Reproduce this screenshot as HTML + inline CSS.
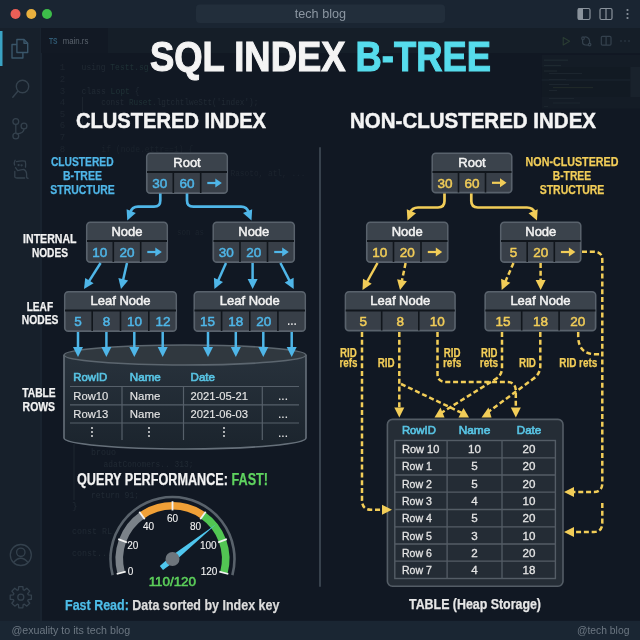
<!DOCTYPE html>
<html><head><meta charset="utf-8"><style>
html,body{margin:0;padding:0;width:640px;height:640px;overflow:hidden;background:#121820}
svg{display:block;position:absolute;left:0;top:0;will-change:transform}
text{font-family:"Liberation Sans",sans-serif}
.b{font-weight:bold}
</style></head><body>
<svg width="640" height="640" viewBox="0 0 640 640">
<defs><linearGradient id="cylg" x1="0" y1="0" x2="0" y2="1"><stop offset="0" stop-color="#28323c"/><stop offset="1" stop-color="#1b242d"/></linearGradient></defs>

<rect x="0" y="0" width="640" height="640" fill="#111823"/>
<rect x="0" y="0" width="640" height="28" fill="#1a2532"/>
<circle cx="15.5" cy="14" r="5" fill="#ec5f57"/>
<circle cx="31.3" cy="14" r="5" fill="#e9b03e"/>
<circle cx="47" cy="14" r="5" fill="#3dbd4a"/>
<rect x="196" y="4.5" width="249" height="18.5" rx="4" fill="#222e3b"/>
<text x="294.75" y="17.5" font-size="12.5" fill="#8c97a2" class="ns" textLength="51.25" lengthAdjust="spacingAndGlyphs">tech blog</text>
<rect x="578" y="8.5" width="12" height="11" rx="1.5" fill="none" stroke="#8a939c" stroke-width="1.2"/>
<rect x="578" y="8.5" width="5" height="11" fill="#8a939c"/>
<rect x="600" y="8.5" width="12" height="11" rx="1.5" fill="none" stroke="#8a939c" stroke-width="1.2"/>
<line x1="606" y1="8.5" x2="606" y2="19.5" stroke="#8a939c" stroke-width="1.2"/>
<circle cx="627.5" cy="10" r="1.1" fill="#8a939c"/><circle cx="627.5" cy="14" r="1.1" fill="#8a939c"/><circle cx="627.5" cy="18" r="1.1" fill="#8a939c"/>
<rect x="0" y="28" width="41" height="593" fill="#17202b"/><rect x="40" y="28" width="2" height="593" fill="#19232f"/>
<rect x="0" y="31" width="2.5" height="35" fill="#3aa3c4"/>
<rect x="41" y="28" width="599" height="25" fill="#151e28"/>
<rect x="41" y="28" width="67" height="25" fill="#121924"/>
<text x="49" y="44.2" font-size="8.5" font-weight="bold" class="ns" fill="#305a74" textLength="8.5" lengthAdjust="spacingAndGlyphs">TS</text>
<text x="62.7" y="44.2" font-size="9.5" fill="#5a636d" class="ns" textLength="25.7" lengthAdjust="spacingAndGlyphs">main.rs</text>
<rect x="0" y="620.8" width="640" height="20" fill="#1a2633"/>
<text x="11.4" y="634.3" font-size="11.5" fill="#6c7782" class="ns" textLength="118.8" lengthAdjust="spacingAndGlyphs">@exuality to its tech blog</text>
<text x="577" y="633.8" font-size="11.5" fill="#6c7782" class="ns" textLength="52.4" lengthAdjust="spacingAndGlyphs">@tech blog</text>
<line x1="320" y1="148" x2="320" y2="586" stroke="#37414c" stroke-width="2" stroke-linecap="round"/>

<g fill="none" stroke="#3a566a" stroke-width="1.4" stroke-linejoin="round"><path d="M16.9,44.5 H12 V58 H22.9 V52.5"/><path d="M16.9,39.5 H24 L27.7,43.2 V52.5 H16.9 Z"/><path d="M24,39.5 V43.2 H27.7"/></g>
<g fill="none" stroke="#34414d" stroke-width="1.4"><circle cx="22.5" cy="86.5" r="6.2"/><path d="M18,91 L12.4,97.8"/></g>
<g fill="none" stroke="#34414d" stroke-width="1.3"><circle cx="15.8" cy="121.6" r="2.9"/><circle cx="15.8" cy="136" r="2.9"/><circle cx="24" cy="126" r="2.9"/><path d="M15.8,124.5 V133.1"/><path d="M24,128.9 Q24,133 16.5,134"/></g>
<g fill="none" stroke="#34414d" stroke-width="1.3" stroke-linecap="round" stroke-linejoin="round"><path d="M15.1,160.2 Q13.8,162.5 14.6,165"/><path d="M16.5,161.6 Q21,160.5 25.2,161.1 Q26,164 25.5,167.2"/><circle cx="18.6" cy="165.1" r="0.5"/><circle cx="21.6" cy="165.3" r="0.5"/><path d="M15.5,167.7 L17.7,170.6 Q21,169.5 23.7,169.3 Q26.4,170.5 26.6,173.7 V177.6 L28,178.4"/><path d="M14.8,171.4 V177 Q15.2,178 17,178 H24.7"/></g>
<g fill="none" stroke="#34414d" stroke-width="1.3"><circle cx="20.8" cy="555" r="10.5"/><circle cx="20.8" cy="552.3" r="4.2"/><path d="M13.5,562.5 Q20.8,554 28.1,562.5"/></g>
<g fill="none" stroke="#34414d" stroke-width="1.3" stroke-linejoin="round"><path d="M31.40,595.14 L31.40,599.26 L28.22,599.59 L27.74,600.76 L29.75,603.24 L26.84,606.15 L24.36,604.14 L23.19,604.62 L22.86,607.80 L18.74,607.80 L18.41,604.62 L17.24,604.14 L14.76,606.15 L11.85,603.24 L13.86,600.76 L13.38,599.59 L10.20,599.26 L10.20,595.14 L13.38,594.81 L13.86,593.64 L11.85,591.16 L14.76,588.25 L17.24,590.26 L18.41,589.78 L18.74,586.60 L22.86,586.60 L23.19,589.78 L24.36,590.26 L26.84,588.25 L29.75,591.16 L27.74,593.64 L28.22,594.81 Z"/><circle cx="20.8" cy="597.2" r="3"/></g>
<path d="M563.2,37.6 L569.6,41.3 L563.2,45 Z" fill="none" stroke="#2a3c33" stroke-width="1.1" stroke-linejoin="round"/>
<g fill="none" stroke="#34414d" stroke-width="1.2" stroke-linecap="round"><path d="M582.6,39.5 V42.5 Q582.6,44.6 585.5,45 L588,45.2"/><path d="M584,37.2 Q586,36.6 587.5,37.5 Q589.6,39 589.6,41 V43.2"/><circle cx="583" cy="38.2" r="1.3"/><circle cx="589.6" cy="44.6" r="1.3"/></g>
<rect x="601.3" y="36.3" width="9.7" height="8.8" rx="1.2" fill="none" stroke="#34414d" stroke-width="1.2"/><line x1="606.1" y1="36.3" x2="606.1" y2="45.1" stroke="#34414d" stroke-width="1.2"/>
<circle cx="621" cy="41" r="0.8" fill="#34414d"/>
<circle cx="625" cy="41" r="0.8" fill="#34414d"/>
<circle cx="629" cy="41" r="0.8" fill="#34414d"/>
<rect x="541.7" y="54.9" width="98.3" height="53.6" fill="#141c26"/>
<rect x="541.7" y="67" width="88.6" height="30" fill="#121a23"/>
<rect x="630.3" y="67" width="9.7" height="30" fill="#19222c"/>
<rect x="541.7" y="79.6" width="88.6" height="0.8" fill="#1f2a33"/>
<rect x="544" y="59.6" width="24" height="1.1" fill="#1f2b32"/>
<rect x="544" y="65" width="17" height="1.1" fill="#1e2930"/>
<rect x="544" y="70.5" width="13" height="1.1" fill="#1e2930"/>
<rect x="549" y="73" width="33" height="1.1" fill="#1c252e"/>
<rect x="549" y="79" width="17" height="1.1" fill="#1c252e"/>
<rect x="549" y="84" width="20" height="1.1" fill="#1c252e"/>
<rect x="553" y="87" width="40" height="1.1" fill="#1f2828"/>
<rect x="549" y="90" width="8" height="1.1" fill="#1c252e"/>
<rect x="549" y="98" width="25" height="1.1" fill="#1c252e"/>
<rect x="553" y="102.5" width="27" height="1.1" fill="#1c252e"/>
<rect x="544" y="106" width="4" height="1.1" fill="#1c252e"/>
<text x="59.8" y="70.3" font-size="9" fill="#1e2630" style="font-family:Liberation Mono" class="ns">1</text>
<text x="59.8" y="81.89999999999999" font-size="9" fill="#1e2630" style="font-family:Liberation Mono" class="ns">2</text>
<text x="59.8" y="93.5" font-size="9" fill="#1e2630" style="font-family:Liberation Mono" class="ns">3</text>
<text x="59.8" y="105.1" font-size="9" fill="#1e2630" style="font-family:Liberation Mono" class="ns">4</text>
<text x="59.8" y="116.7" font-size="9" fill="#1e2630" style="font-family:Liberation Mono" class="ns">5</text>
<text x="59.8" y="128.3" font-size="9" fill="#1e2630" style="font-family:Liberation Mono" class="ns">6</text>
<text x="59.8" y="139.9" font-size="9" fill="#1e2630" style="font-family:Liberation Mono" class="ns">7</text>
<text x="59.8" y="151.5" font-size="9" fill="#1e2630" style="font-family:Liberation Mono" class="ns">8</text>
<text x="59.8" y="163.10000000000002" font-size="9" fill="#1e2630" style="font-family:Liberation Mono" class="ns">9</text>
<text x="0" y="0" class="ns"></text>
<text x="81.6" y="70.3" font-size="9.5" fill="#212a34" style="font-family:Liberation Mono" class="ns" textLength="67" lengthAdjust="spacingAndGlyphs">using <tspan class="ns" fill="#1f3236">Testt.sg</tspan></text>
<text x="81.6" y="93.5" font-size="9.5" fill="#212a34" style="font-family:Liberation Mono" class="ns" textLength="58" lengthAdjust="spacingAndGlyphs">class <tspan class="ns" fill="#1f3236">Lopt</tspan> {</text>
<text x="101.3" y="105" font-size="9.5" fill="#212a34" style="font-family:Liberation Mono" class="ns" textLength="157" lengthAdjust="spacingAndGlyphs">const <tspan class="ns" fill="#1f3236">Ruset</tspan>.lgtchtlweStt(&#39;index&#39;);</text>
<text x="101.3" y="151.6" font-size="9.5" fill="#1b232d" style="font-family:Liberation Mono" class="ns" textLength="92" lengthAdjust="spacingAndGlyphs">if (node.ettr==1) {</text>
<text x="230.5" y="175.6" font-size="9.5" fill="#1c242e" style="font-family:Liberation Mono" class="ns" textLength="75" lengthAdjust="spacingAndGlyphs">Rasoto, atl, ...</text>
<text x="177" y="235.4" font-size="9.5" fill="#1c242e" style="font-family:Liberation Mono" class="ns" textLength="27" lengthAdjust="spacingAndGlyphs">son as</text>
<text x="91" y="455" font-size="9.5" fill="#212a34" style="font-family:Liberation Mono" class="ns" textLength="25" lengthAdjust="spacingAndGlyphs">brouo</text>
<text x="103.5" y="466.5" font-size="9.5" fill="#212a34" style="font-family:Liberation Mono" class="ns" textLength="90" lengthAdjust="spacingAndGlyphs">adatConomers.. 313;</text>
<text x="91" y="497.8" font-size="9.5" fill="#212a34" style="font-family:Liberation Mono" class="ns" textLength="48" lengthAdjust="spacingAndGlyphs">return 91;</text>
<text x="72" y="509" font-size="9.5" fill="#212a34" style="font-family:Liberation Mono" class="ns">}</text>
<text x="72" y="533.6" font-size="9.5" fill="#212a34" style="font-family:Liberation Mono" class="ns" textLength="40" lengthAdjust="spacingAndGlyphs">const RL</text>
<text x="72" y="555.5" font-size="9.5" fill="#212a34" style="font-family:Liberation Mono" class="ns" textLength="40" lengthAdjust="spacingAndGlyphs">const...</text>
<line x1="74" y1="444" x2="74" y2="500" stroke="#1e2630" stroke-width="1"/>
<line x1="82.5" y1="97" x2="82.5" y2="126" stroke="#1c242e" stroke-width="1"/>
<text x="150" y="71" font-size="42" class="b" fill="#f4f4f4" textLength="341" lengthAdjust="spacingAndGlyphs" stroke="#f4f4f4" stroke-width="1.1">SQL INDEX <tspan fill="#56dcec" stroke="#56dcec">B-TREE</tspan></text>
<text x="76" y="128" font-size="22" class="b" fill="#f4f4f4" textLength="190" lengthAdjust="spacingAndGlyphs" stroke="#f4f4f4" stroke-width="0.5">CLUSTERED INDEX</text>
<text x="350" y="128" font-size="22" class="b" fill="#f4f4f4" textLength="246" lengthAdjust="spacingAndGlyphs" stroke="#f4f4f4" stroke-width="0.5">NON-CLUSTERED INDEX</text>
<text x="50.9" y="166.1" font-size="11.9" class="b" fill="#4fb6e8" textLength="62.7" lengthAdjust="spacingAndGlyphs" stroke="#4fb6e8" stroke-width="0.25">CLUSTERED</text>
<text x="62.9" y="180.1" font-size="11.9" class="b" fill="#4fb6e8" textLength="39.0" lengthAdjust="spacingAndGlyphs" stroke="#4fb6e8" stroke-width="0.25">B-TREE</text>
<text x="50.3" y="194" font-size="11.9" class="b" fill="#4fb6e8" textLength="64.4" lengthAdjust="spacingAndGlyphs" stroke="#4fb6e8" stroke-width="0.25">STRUCTURE</text>
<text x="23.1" y="243.1" font-size="11.9" class="b" fill="#f2f2f2" textLength="53.4" lengthAdjust="spacingAndGlyphs" stroke="#f2f2f2" stroke-width="0.25">INTERNAL</text>
<text x="31.9" y="256.9" font-size="11.9" class="b" fill="#f2f2f2" textLength="36.1" lengthAdjust="spacingAndGlyphs" stroke="#f2f2f2" stroke-width="0.25">NODES</text>
<text x="26.7" y="310.7" font-size="11.9" class="b" fill="#f2f2f2" textLength="26.4" lengthAdjust="spacingAndGlyphs" stroke="#f2f2f2" stroke-width="0.25">LEAF</text>
<text x="21.8" y="324" font-size="11.9" class="b" fill="#f2f2f2" textLength="36.6" lengthAdjust="spacingAndGlyphs" stroke="#f2f2f2" stroke-width="0.25">NODES</text>
<text x="22.2" y="397.3" font-size="11.9" class="b" fill="#f2f2f2" textLength="33.5" lengthAdjust="spacingAndGlyphs" stroke="#f2f2f2" stroke-width="0.25">TABLE</text>
<text x="22.6" y="411.3" font-size="11.9" class="b" fill="#f2f2f2" textLength="32.5" lengthAdjust="spacingAndGlyphs" stroke="#f2f2f2" stroke-width="0.25">ROWS</text>
<rect x="146.8" y="153.3" width="80.4" height="39.9" rx="3.5" fill="#383f48" stroke="#59626c" stroke-width="1.7"/>
<rect x="147.7" y="154.2" width="78.6" height="17.8" rx="2.5" fill="#3b434c"/>
<line x1="147" y1="172.0" x2="227" y2="172.0" stroke="#11161c" stroke-width="1.8"/>
<line x1="173.3" y1="172.0" x2="173.3" y2="193.0" stroke="#11161c" stroke-width="1.6"/>
<line x1="200.7" y1="172.0" x2="200.7" y2="193.0" stroke="#11161c" stroke-width="1.6"/>
<text x="187.0" y="166.9" font-size="13" fill="#f2f2f2" text-anchor="middle" stroke="#f2f2f2" stroke-width="0.5">Root</text>
<text x="159.7" y="187.9" font-size="13.5" fill="#4fb6e8" text-anchor="middle" stroke="#4fb6e8" stroke-width="0.5">30</text>
<text x="187.0" y="187.9" font-size="13.5" fill="#4fb6e8" text-anchor="middle" stroke="#4fb6e8" stroke-width="0.5">60</text>
<path d="M207.3,183.0 H217.3" stroke="#4fb6e8" stroke-width="2.2"/>
<path d="M215.3,178.5 L221.8,183.0 L215.3,187.5 Z" fill="#4fb6e8"/>
<rect x="86.8" y="222.3" width="80.4" height="39.9" rx="3.5" fill="#383f48" stroke="#59626c" stroke-width="1.7"/>
<rect x="87.7" y="223.2" width="78.6" height="17.8" rx="2.5" fill="#3b434c"/>
<line x1="87" y1="241.0" x2="167" y2="241.0" stroke="#11161c" stroke-width="1.8"/>
<line x1="113.3" y1="241.0" x2="113.3" y2="262.0" stroke="#11161c" stroke-width="1.6"/>
<line x1="140.7" y1="241.0" x2="140.7" y2="262.0" stroke="#11161c" stroke-width="1.6"/>
<text x="127.0" y="235.9" font-size="13" fill="#f2f2f2" text-anchor="middle" stroke="#f2f2f2" stroke-width="0.5">Node</text>
<text x="99.7" y="256.9" font-size="13.5" fill="#4fb6e8" text-anchor="middle" stroke="#4fb6e8" stroke-width="0.5">10</text>
<text x="127.0" y="256.9" font-size="13.5" fill="#4fb6e8" text-anchor="middle" stroke="#4fb6e8" stroke-width="0.5">20</text>
<path d="M147.3,252.0 H157.3" stroke="#4fb6e8" stroke-width="2.2"/>
<path d="M155.3,247.5 L161.8,252.0 L155.3,256.5 Z" fill="#4fb6e8"/>
<rect x="213.3" y="222.3" width="80.9" height="39.9" rx="3.5" fill="#383f48" stroke="#59626c" stroke-width="1.7"/>
<rect x="214.2" y="223.2" width="79.1" height="17.8" rx="2.5" fill="#3b434c"/>
<line x1="213.5" y1="241.0" x2="294.0" y2="241.0" stroke="#11161c" stroke-width="1.8"/>
<line x1="240.0" y1="241.0" x2="240.0" y2="262.0" stroke="#11161c" stroke-width="1.6"/>
<line x1="267.5" y1="241.0" x2="267.5" y2="262.0" stroke="#11161c" stroke-width="1.6"/>
<text x="253.8" y="235.9" font-size="13" fill="#f2f2f2" text-anchor="middle" stroke="#f2f2f2" stroke-width="0.5">Node</text>
<text x="226.2" y="256.9" font-size="13.5" fill="#4fb6e8" text-anchor="middle" stroke="#4fb6e8" stroke-width="0.5">30</text>
<text x="253.8" y="256.9" font-size="13.5" fill="#4fb6e8" text-anchor="middle" stroke="#4fb6e8" stroke-width="0.5">20</text>
<path d="M274.2,252.0 H284.2" stroke="#4fb6e8" stroke-width="2.2"/>
<path d="M282.2,247.5 L288.8,252.0 L282.2,256.5 Z" fill="#4fb6e8"/>
<rect x="64.8" y="291.8" width="111.4" height="39.4" rx="3.5" fill="#383f48" stroke="#59626c" stroke-width="1.7"/>
<rect x="65.7" y="292.7" width="109.6" height="17.8" rx="2.5" fill="#3b434c"/>
<line x1="65" y1="310.5" x2="176" y2="310.5" stroke="#11161c" stroke-width="1.8"/>
<line x1="92.2" y1="310.5" x2="92.2" y2="331" stroke="#11161c" stroke-width="1.6"/>
<line x1="120.5" y1="310.5" x2="120.5" y2="331" stroke="#11161c" stroke-width="1.6"/>
<line x1="148.8" y1="310.5" x2="148.8" y2="331" stroke="#11161c" stroke-width="1.6"/>
<text x="120.5" y="305.4" font-size="13" fill="#f2f2f2" text-anchor="middle" stroke="#f2f2f2" stroke-width="0.5">Leaf Node</text>
<text x="78.1" y="326.1" font-size="13.5" fill="#4fb6e8" text-anchor="middle" stroke="#4fb6e8" stroke-width="0.5">5</text>
<text x="106.4" y="326.1" font-size="13.5" fill="#4fb6e8" text-anchor="middle" stroke="#4fb6e8" stroke-width="0.5">8</text>
<text x="134.6" y="326.1" font-size="13.5" fill="#4fb6e8" text-anchor="middle" stroke="#4fb6e8" stroke-width="0.5">10</text>
<text x="162.9" y="326.1" font-size="13.5" fill="#4fb6e8" text-anchor="middle" stroke="#4fb6e8" stroke-width="0.5">12</text>
<rect x="194.3" y="291.8" width="110.9" height="39.4" rx="3.5" fill="#383f48" stroke="#59626c" stroke-width="1.7"/>
<rect x="195.2" y="292.7" width="109.1" height="17.8" rx="2.5" fill="#3b434c"/>
<line x1="194.5" y1="310.5" x2="305.0" y2="310.5" stroke="#11161c" stroke-width="1.8"/>
<line x1="221.6" y1="310.5" x2="221.6" y2="331" stroke="#11161c" stroke-width="1.6"/>
<line x1="249.8" y1="310.5" x2="249.8" y2="331" stroke="#11161c" stroke-width="1.6"/>
<line x1="277.9" y1="310.5" x2="277.9" y2="331" stroke="#11161c" stroke-width="1.6"/>
<text x="249.8" y="305.4" font-size="13" fill="#f2f2f2" text-anchor="middle" stroke="#f2f2f2" stroke-width="0.5">Leaf Node</text>
<text x="207.6" y="326.1" font-size="13.5" fill="#4fb6e8" text-anchor="middle" stroke="#4fb6e8" stroke-width="0.5">15</text>
<text x="235.7" y="326.1" font-size="13.5" fill="#4fb6e8" text-anchor="middle" stroke="#4fb6e8" stroke-width="0.5">18</text>
<text x="263.8" y="326.1" font-size="13.5" fill="#4fb6e8" text-anchor="middle" stroke="#4fb6e8" stroke-width="0.5">20</text>
<text x="291.9" y="325.4" font-size="12" fill="#f2f2f2" text-anchor="middle" stroke="#f2f2f2" stroke-width="0.1">...</text>
<path d="M160.3,193.5 V200.5 Q160.3,206.7 154,206.7 H138 Q132,206.7 130,213" fill="none" stroke="#4fb6e8" stroke-width="2.7" stroke-linejoin="round"/>
<path d="M127.3,220.4 L126.6,209.2 L135.8,213.1 Z" fill="#4fb6e8"/>
<path d="M187,193.5 V200.5 Q187,206.7 193.3,206.7 H241 Q247,206.7 249,213" fill="none" stroke="#4fb6e8" stroke-width="2.7" stroke-linejoin="round"/>
<path d="M251.5,220.4 L243.0,213.1 L252.2,209.2 Z" fill="#4fb6e8"/>
<line x1="100.6" y1="263" x2="88.3" y2="282.3" stroke="#4fb6e8" stroke-width="2.5"/>
<path d="M84.0,289.0 L85.2,277.9 L93.6,283.3 Z" fill="#4fb6e8"/>
<line x1="127" y1="263" x2="122.8" y2="281.2" stroke="#4fb6e8" stroke-width="2.5"/>
<path d="M121.0,289.0 L118.4,278.1 L128.1,280.4 Z" fill="#4fb6e8"/>
<line x1="226" y1="263" x2="217.7" y2="281.7" stroke="#4fb6e8" stroke-width="2.5"/>
<path d="M214.4,289.0 L213.9,277.8 L223.0,281.9 Z" fill="#4fb6e8"/>
<line x1="252.6" y1="263" x2="252.6" y2="281.0" stroke="#4fb6e8" stroke-width="2.5"/>
<path d="M252.6,289.0 L247.6,279.0 L257.6,279.0 Z" fill="#4fb6e8"/>
<line x1="280.4" y1="263" x2="290.1" y2="281.9" stroke="#4fb6e8" stroke-width="2.5"/>
<path d="M293.7,289.0 L284.7,282.4 L293.6,277.8 Z" fill="#4fb6e8"/>
<path d="M64,355 L64,438 A121,11 0 0 0 306,438 L306,355" fill="url(#cylg)" stroke="#66707a" stroke-width="1.6"/>
<ellipse cx="185" cy="355" rx="121" ry="10" fill="#30383f" stroke="#5c666f" stroke-width="1.6"/>
<line x1="70" y1="386.5" x2="299" y2="386.5" stroke="#56606a" stroke-width="1.2"/>
<line x1="70" y1="404.8" x2="299" y2="404.8" stroke="#56606a" stroke-width="1.2"/>
<line x1="70" y1="423" x2="299" y2="423" stroke="#56606a" stroke-width="1.2"/>
<line x1="122" y1="386.5" x2="122" y2="440" stroke="#56606a" stroke-width="1.2"/>
<line x1="183.5" y1="386.5" x2="183.5" y2="440" stroke="#56606a" stroke-width="1.2"/>
<line x1="262.3" y1="386.5" x2="262.3" y2="440" stroke="#56606a" stroke-width="1.2"/>
<line x1="78" y1="332" x2="78.0" y2="349.0" stroke="#4fb6e8" stroke-width="2.5"/>
<path d="M78.0,357.0 L73.0,347.0 L83.0,347.0 Z" fill="#4fb6e8"/>
<line x1="106.4" y1="332" x2="106.4" y2="349.0" stroke="#4fb6e8" stroke-width="2.5"/>
<path d="M106.4,357.0 L101.4,347.0 L111.4,347.0 Z" fill="#4fb6e8"/>
<line x1="134.3" y1="332" x2="134.3" y2="349.0" stroke="#4fb6e8" stroke-width="2.5"/>
<path d="M134.3,357.0 L129.3,347.0 L139.3,347.0 Z" fill="#4fb6e8"/>
<line x1="162.7" y1="332" x2="162.7" y2="349.0" stroke="#4fb6e8" stroke-width="2.5"/>
<path d="M162.7,357.0 L157.7,347.0 L167.7,347.0 Z" fill="#4fb6e8"/>
<line x1="208" y1="332" x2="208.0" y2="349.0" stroke="#4fb6e8" stroke-width="2.5"/>
<path d="M208.0,357.0 L203.0,347.0 L213.0,347.0 Z" fill="#4fb6e8"/>
<line x1="235.8" y1="332" x2="235.8" y2="349.0" stroke="#4fb6e8" stroke-width="2.5"/>
<path d="M235.8,357.0 L230.8,347.0 L240.8,347.0 Z" fill="#4fb6e8"/>
<line x1="263.3" y1="332" x2="263.3" y2="349.0" stroke="#4fb6e8" stroke-width="2.5"/>
<path d="M263.3,357.0 L258.3,347.0 L268.3,347.0 Z" fill="#4fb6e8"/>
<line x1="291.7" y1="332" x2="291.7" y2="349.0" stroke="#4fb6e8" stroke-width="2.5"/>
<path d="M291.7,357.0 L286.7,347.0 L296.7,347.0 Z" fill="#4fb6e8"/>
<text x="73.3" y="380.8" font-size="11.8" fill="#58c4e4" text-anchor="start" stroke="#58c4e4" stroke-width="0.65" textLength="34" lengthAdjust="spacingAndGlyphs">RowID</text>
<text x="129.8" y="380.8" font-size="11.8" fill="#58c4e4" text-anchor="start" stroke="#58c4e4" stroke-width="0.65" textLength="31" lengthAdjust="spacingAndGlyphs">Name</text>
<text x="190.6" y="380.8" font-size="11.8" fill="#58c4e4" text-anchor="start" stroke="#58c4e4" stroke-width="0.65" textLength="24.4" lengthAdjust="spacingAndGlyphs">Date</text>
<text x="73.3" y="399.5" font-size="11.8" fill="#e4e4e4" text-anchor="start" stroke="#e4e4e4" stroke-width="0.15" textLength="35" lengthAdjust="spacingAndGlyphs">Row10</text>
<text x="129.8" y="399.5" font-size="11.8" fill="#e4e4e4" text-anchor="start" stroke="#e4e4e4" stroke-width="0.15" textLength="30.5" lengthAdjust="spacingAndGlyphs">Name</text>
<text x="190.6" y="399.5" font-size="11.8" fill="#e4e4e4" text-anchor="start" stroke="#e4e4e4" stroke-width="0.15" textLength="57.5" lengthAdjust="spacingAndGlyphs">2021-05-21</text>
<text x="283" y="399.5" font-size="11.8" fill="#e4e4e4" text-anchor="middle" stroke="#e4e4e4" stroke-width="0.15">...</text>
<text x="73.3" y="417.8" font-size="11.8" fill="#e4e4e4" text-anchor="start" stroke="#e4e4e4" stroke-width="0.15" textLength="35" lengthAdjust="spacingAndGlyphs">Row13</text>
<text x="129.8" y="417.8" font-size="11.8" fill="#e4e4e4" text-anchor="start" stroke="#e4e4e4" stroke-width="0.15" textLength="30.5" lengthAdjust="spacingAndGlyphs">Name</text>
<text x="190.6" y="417.8" font-size="11.8" fill="#e4e4e4" text-anchor="start" stroke="#e4e4e4" stroke-width="0.15" textLength="57.5" lengthAdjust="spacingAndGlyphs">2021-06-03</text>
<text x="283" y="417.8" font-size="11.8" fill="#e4e4e4" text-anchor="middle" stroke="#e4e4e4" stroke-width="0.15">...</text>
<circle cx="92" cy="428" r="0.9" fill="#f2f2f2"/>
<circle cx="92" cy="432" r="0.9" fill="#f2f2f2"/>
<circle cx="92" cy="436" r="0.9" fill="#f2f2f2"/>
<circle cx="149" cy="428" r="0.9" fill="#f2f2f2"/>
<circle cx="149" cy="432" r="0.9" fill="#f2f2f2"/>
<circle cx="149" cy="436" r="0.9" fill="#f2f2f2"/>
<circle cx="224" cy="428" r="0.9" fill="#f2f2f2"/>
<circle cx="224" cy="432" r="0.9" fill="#f2f2f2"/>
<circle cx="224" cy="436" r="0.9" fill="#f2f2f2"/>
<text x="283" y="436.5" font-size="11.8" fill="#e4e4e4" text-anchor="middle" stroke="#e4e4e4" stroke-width="0.15">...</text>
<text x="77" y="484.5" font-size="16" class="b" fill="#f2f2f2" textLength="191" lengthAdjust="spacingAndGlyphs" stroke="#f2f2f2" stroke-width="0.25">QUERY PERFORMANCE: <tspan fill="#5fd35f" stroke="#5fd35f">FAST!</tspan></text>
<path d="M112.61,575.05 A62,62 0 1 1 232.39,575.05" fill="none" stroke="#59626b" stroke-width="2.6"/>
<path d="M121.11,572.77 A53.2,53.2 0 0 1 141.99,515.42" fill="none" stroke="#7b8289" stroke-width="7.6"/>
<path d="M141.99,515.42 A53.2,53.2 0 0 1 203.01,515.42" fill="none" stroke="#f0a037" stroke-width="7.6"/>
<path d="M203.01,515.42 A53.2,53.2 0 0 1 223.89,572.77" fill="none" stroke="#52c553" stroke-width="7.6"/>
<line x1="125.7" y1="571.6" x2="116.7" y2="574.0" stroke="#f2f2f2" stroke-width="1.8"/>
<line x1="126.9" y1="542.4" x2="118.2" y2="539.2" stroke="#f2f2f2" stroke-width="1.8"/>
<line x1="144.7" y1="519.3" x2="139.3" y2="511.7" stroke="#f2f2f2" stroke-width="1.8"/>
<line x1="172.5" y1="510.5" x2="172.5" y2="501.2" stroke="#f2f2f2" stroke-width="1.8"/>
<line x1="200.3" y1="519.3" x2="205.7" y2="511.7" stroke="#f2f2f2" stroke-width="1.8"/>
<line x1="218.1" y1="542.4" x2="226.8" y2="539.2" stroke="#f2f2f2" stroke-width="1.8"/>
<line x1="219.3" y1="571.6" x2="228.3" y2="574.0" stroke="#f2f2f2" stroke-width="1.8"/>
<text x="130.5" y="574.6" font-size="10" fill="#f2f2f2" text-anchor="middle" stroke="#f2f2f2" stroke-width="0.1">0</text>
<text x="132.8" y="548.6" font-size="10" fill="#f2f2f2" text-anchor="middle" stroke="#f2f2f2" stroke-width="0.1">20</text>
<text x="148.6" y="529.6" font-size="10" fill="#f2f2f2" text-anchor="middle" stroke="#f2f2f2" stroke-width="0.1">40</text>
<text x="172.5" y="522.0" font-size="10" fill="#f2f2f2" text-anchor="middle" stroke="#f2f2f2" stroke-width="0.1">60</text>
<text x="195.6" y="529.6" font-size="10" fill="#f2f2f2" text-anchor="middle" stroke="#f2f2f2" stroke-width="0.1">80</text>
<text x="208.3" y="548.6" font-size="10" fill="#f2f2f2" text-anchor="middle" stroke="#f2f2f2" stroke-width="0.1">100</text>
<text x="209" y="574.6" font-size="10" fill="#f2f2f2" text-anchor="middle" stroke="#f2f2f2" stroke-width="0.1">120</text>
<path d="M216.0,524.3 L174.5,561.5 L163.0,570.0 L159.8,566.0 L170.5,556.5 Z" fill="#4fc6ee"/>
<circle cx="172.5" cy="559" r="7" fill="#6e757c"/>
<text x="148.7" y="586.4" font-size="13" fill="#5ccf5a" stroke="#5ccf5a" stroke-width="0.6" textLength="47.3" lengthAdjust="spacingAndGlyphs">110/120</text>
<text x="65" y="609.8" font-size="15" class="b" fill="#dcdcdc" textLength="214.4" lengthAdjust="spacingAndGlyphs" stroke="#dcdcdc" stroke-width="0.25"><tspan fill="#4ebde8" stroke="#4ebde8">Fast Read:</tspan> Data sorted by Index key</text>
<text x="525.6" y="166.1" font-size="11.9" class="b" fill="#f2cd58" textLength="92.8" lengthAdjust="spacingAndGlyphs" stroke="#f2cd58" stroke-width="0.25">NON-CLUSTERED</text>
<text x="552.8" y="180.1" font-size="11.9" class="b" fill="#f2cd58" textLength="38.2" lengthAdjust="spacingAndGlyphs" stroke="#f2cd58" stroke-width="0.25">B-TREE</text>
<text x="539.7" y="193.5" font-size="11.9" class="b" fill="#f2cd58" textLength="64.6" lengthAdjust="spacingAndGlyphs" stroke="#f2cd58" stroke-width="0.25">STRUCTURE</text>
<rect x="432.3" y="153.3" width="79.4" height="39.4" rx="3.5" fill="#383f48" stroke="#59626c" stroke-width="1.7"/>
<rect x="433.2" y="154.2" width="77.6" height="17.8" rx="2.5" fill="#3b434c"/>
<line x1="432.5" y1="172.0" x2="511.5" y2="172.0" stroke="#11161c" stroke-width="1.8"/>
<line x1="458.5" y1="172.0" x2="458.5" y2="192.5" stroke="#11161c" stroke-width="1.6"/>
<line x1="485.5" y1="172.0" x2="485.5" y2="192.5" stroke="#11161c" stroke-width="1.6"/>
<text x="472.0" y="166.9" font-size="13" fill="#f2f2f2" text-anchor="middle" stroke="#f2f2f2" stroke-width="0.5">Root</text>
<text x="445.0" y="187.6" font-size="13.5" fill="#f2cd58" text-anchor="middle" stroke="#f2cd58" stroke-width="0.5">30</text>
<text x="472.0" y="187.6" font-size="13.5" fill="#f2cd58" text-anchor="middle" stroke="#f2cd58" stroke-width="0.5">60</text>
<path d="M492.0,182.8 H502.0" stroke="#f2cd58" stroke-width="2.2"/>
<path d="M500.0,178.2 L506.5,182.8 L500.0,187.2 Z" fill="#f2cd58"/>
<rect x="366.8" y="222.3" width="80.9" height="39.9" rx="3.5" fill="#383f48" stroke="#59626c" stroke-width="1.7"/>
<rect x="367.7" y="223.2" width="79.1" height="17.8" rx="2.5" fill="#3b434c"/>
<line x1="367" y1="241.0" x2="447.5" y2="241.0" stroke="#11161c" stroke-width="1.8"/>
<line x1="393.5" y1="241.0" x2="393.5" y2="262.0" stroke="#11161c" stroke-width="1.6"/>
<line x1="421.0" y1="241.0" x2="421.0" y2="262.0" stroke="#11161c" stroke-width="1.6"/>
<text x="407.2" y="235.9" font-size="13" fill="#f2f2f2" text-anchor="middle" stroke="#f2f2f2" stroke-width="0.5">Node</text>
<text x="379.8" y="256.9" font-size="13.5" fill="#f2cd58" text-anchor="middle" stroke="#f2cd58" stroke-width="0.5">10</text>
<text x="407.2" y="256.9" font-size="13.5" fill="#f2cd58" text-anchor="middle" stroke="#f2cd58" stroke-width="0.5">20</text>
<path d="M427.8,252.0 H437.8" stroke="#f2cd58" stroke-width="2.2"/>
<path d="M435.8,247.5 L442.2,252.0 L435.8,256.5 Z" fill="#f2cd58"/>
<rect x="500.8" y="222.3" width="79.9" height="39.9" rx="3.5" fill="#383f48" stroke="#59626c" stroke-width="1.7"/>
<rect x="501.7" y="223.2" width="78.1" height="17.8" rx="2.5" fill="#3b434c"/>
<line x1="501" y1="241.0" x2="580.5" y2="241.0" stroke="#11161c" stroke-width="1.8"/>
<line x1="527.2" y1="241.0" x2="527.2" y2="262.0" stroke="#11161c" stroke-width="1.6"/>
<line x1="554.3" y1="241.0" x2="554.3" y2="262.0" stroke="#11161c" stroke-width="1.6"/>
<text x="540.8" y="235.9" font-size="13" fill="#f2f2f2" text-anchor="middle" stroke="#f2f2f2" stroke-width="0.5">Node</text>
<text x="513.6" y="256.9" font-size="13.5" fill="#f2cd58" text-anchor="middle" stroke="#f2cd58" stroke-width="0.5">5</text>
<text x="540.8" y="256.9" font-size="13.5" fill="#f2cd58" text-anchor="middle" stroke="#f2cd58" stroke-width="0.5">20</text>
<path d="M560.9,252.0 H570.9" stroke="#f2cd58" stroke-width="2.2"/>
<path d="M568.9,247.5 L575.4,252.0 L568.9,256.5 Z" fill="#f2cd58"/>
<rect x="345.5" y="291.8" width="109.5" height="38.9" rx="3.5" fill="#383f48" stroke="#59626c" stroke-width="1.7"/>
<rect x="346.4" y="292.7" width="107.7" height="17.8" rx="2.5" fill="#3b434c"/>
<line x1="345.7" y1="310.5" x2="454.79999999999995" y2="310.5" stroke="#11161c" stroke-width="1.8"/>
<line x1="381.7" y1="310.5" x2="381.7" y2="330.5" stroke="#11161c" stroke-width="1.6"/>
<line x1="418.8" y1="310.5" x2="418.8" y2="330.5" stroke="#11161c" stroke-width="1.6"/>
<text x="400.2" y="305.4" font-size="13" fill="#f2f2f2" text-anchor="middle" stroke="#f2f2f2" stroke-width="0.5">Leaf Node</text>
<text x="363.2" y="325.9" font-size="13.5" fill="#f2cd58" text-anchor="middle" stroke="#f2cd58" stroke-width="0.5">5</text>
<text x="400.2" y="325.9" font-size="13.5" fill="#f2cd58" text-anchor="middle" stroke="#f2cd58" stroke-width="0.5">8</text>
<text x="437.3" y="325.9" font-size="13.5" fill="#f2cd58" text-anchor="middle" stroke="#f2cd58" stroke-width="0.5">10</text>
<rect x="485.2" y="291.8" width="110.4" height="38.9" rx="3.5" fill="#383f48" stroke="#59626c" stroke-width="1.7"/>
<rect x="486.1" y="292.7" width="108.6" height="17.8" rx="2.5" fill="#3b434c"/>
<line x1="485.4" y1="310.5" x2="595.4" y2="310.5" stroke="#11161c" stroke-width="1.8"/>
<line x1="521.7" y1="310.5" x2="521.7" y2="330.5" stroke="#11161c" stroke-width="1.6"/>
<line x1="559.1" y1="310.5" x2="559.1" y2="330.5" stroke="#11161c" stroke-width="1.6"/>
<text x="540.4" y="305.4" font-size="13" fill="#f2f2f2" text-anchor="middle" stroke="#f2f2f2" stroke-width="0.5">Leaf Node</text>
<text x="503.1" y="325.9" font-size="13.5" fill="#f2cd58" text-anchor="middle" stroke="#f2cd58" stroke-width="0.5">15</text>
<text x="540.4" y="325.9" font-size="13.5" fill="#f2cd58" text-anchor="middle" stroke="#f2cd58" stroke-width="0.5">18</text>
<text x="577.7" y="325.9" font-size="13.5" fill="#f2cd58" text-anchor="middle" stroke="#f2cd58" stroke-width="0.5">20</text>
<rect x="387.4" y="419.4" width="175.6" height="166.8" rx="5" fill="#252d36" stroke="#545d66" stroke-width="1.6"/>
<text x="401.9" y="433.8" font-size="11.6" fill="#58c4e4" text-anchor="start" stroke="#58c4e4" stroke-width="0.65" textLength="34" lengthAdjust="spacingAndGlyphs">RowID</text>
<text x="458.7" y="433.8" font-size="11.6" fill="#58c4e4" text-anchor="start" stroke="#58c4e4" stroke-width="0.65" textLength="31.7" lengthAdjust="spacingAndGlyphs">Name</text>
<text x="516.8" y="433.8" font-size="11.6" fill="#58c4e4" text-anchor="start" stroke="#58c4e4" stroke-width="0.65" textLength="24.4" lengthAdjust="spacingAndGlyphs">Date</text>
<rect x="394.8" y="440.5" width="160.6" height="138" fill="#242c35" stroke="#545d66" stroke-width="1.4"/>
<text x="401.9" y="453.2" font-size="11.4" fill="#e4e4e4" text-anchor="start" stroke="#e4e4e4" stroke-width="0.3" textLength="37.5" lengthAdjust="spacingAndGlyphs">Row 10</text>
<text x="474.5" y="453.2" font-size="11.6" fill="#e4e4e4" text-anchor="middle" stroke="#e4e4e4" stroke-width="0.3">10</text>
<text x="529" y="453.2" font-size="11.6" fill="#e4e4e4" text-anchor="middle" stroke="#e4e4e4" stroke-width="0.3">20</text>
<line x1="394.8" y1="457.8" x2="555.4" y2="457.8" stroke="#545d66" stroke-width="1.3"/>
<text x="401.9" y="470.4" font-size="11.4" fill="#e4e4e4" text-anchor="start" stroke="#e4e4e4" stroke-width="0.3" textLength="30" lengthAdjust="spacingAndGlyphs">Row 1</text>
<text x="474.5" y="470.4" font-size="11.6" fill="#e4e4e4" text-anchor="middle" stroke="#e4e4e4" stroke-width="0.3">5</text>
<text x="529" y="470.4" font-size="11.6" fill="#e4e4e4" text-anchor="middle" stroke="#e4e4e4" stroke-width="0.3">20</text>
<line x1="394.8" y1="475.0" x2="555.4" y2="475.0" stroke="#545d66" stroke-width="1.3"/>
<text x="401.9" y="487.7" font-size="11.4" fill="#e4e4e4" text-anchor="start" stroke="#e4e4e4" stroke-width="0.3" textLength="30" lengthAdjust="spacingAndGlyphs">Row 2</text>
<text x="474.5" y="487.7" font-size="11.6" fill="#e4e4e4" text-anchor="middle" stroke="#e4e4e4" stroke-width="0.3">5</text>
<text x="529" y="487.7" font-size="11.6" fill="#e4e4e4" text-anchor="middle" stroke="#e4e4e4" stroke-width="0.3">20</text>
<line x1="394.8" y1="492.2" x2="555.4" y2="492.2" stroke="#545d66" stroke-width="1.3"/>
<text x="401.9" y="504.9" font-size="11.4" fill="#e4e4e4" text-anchor="start" stroke="#e4e4e4" stroke-width="0.3" textLength="30" lengthAdjust="spacingAndGlyphs">Row 3</text>
<text x="474.5" y="504.9" font-size="11.6" fill="#e4e4e4" text-anchor="middle" stroke="#e4e4e4" stroke-width="0.3">4</text>
<text x="529" y="504.9" font-size="11.6" fill="#e4e4e4" text-anchor="middle" stroke="#e4e4e4" stroke-width="0.3">10</text>
<line x1="394.8" y1="509.5" x2="555.4" y2="509.5" stroke="#545d66" stroke-width="1.3"/>
<text x="401.9" y="522.2" font-size="11.4" fill="#e4e4e4" text-anchor="start" stroke="#e4e4e4" stroke-width="0.3" textLength="30" lengthAdjust="spacingAndGlyphs">Row 4</text>
<text x="474.5" y="522.2" font-size="11.6" fill="#e4e4e4" text-anchor="middle" stroke="#e4e4e4" stroke-width="0.3">5</text>
<text x="529" y="522.2" font-size="11.6" fill="#e4e4e4" text-anchor="middle" stroke="#e4e4e4" stroke-width="0.3">20</text>
<line x1="394.8" y1="526.8" x2="555.4" y2="526.8" stroke="#545d66" stroke-width="1.3"/>
<text x="401.9" y="539.5" font-size="11.4" fill="#e4e4e4" text-anchor="start" stroke="#e4e4e4" stroke-width="0.3" textLength="30" lengthAdjust="spacingAndGlyphs">Row 5</text>
<text x="474.5" y="539.5" font-size="11.6" fill="#e4e4e4" text-anchor="middle" stroke="#e4e4e4" stroke-width="0.3">3</text>
<text x="529" y="539.5" font-size="11.6" fill="#e4e4e4" text-anchor="middle" stroke="#e4e4e4" stroke-width="0.3">10</text>
<line x1="394.8" y1="544.0" x2="555.4" y2="544.0" stroke="#545d66" stroke-width="1.3"/>
<text x="401.9" y="556.7" font-size="11.4" fill="#e4e4e4" text-anchor="start" stroke="#e4e4e4" stroke-width="0.3" textLength="30" lengthAdjust="spacingAndGlyphs">Row 6</text>
<text x="474.5" y="556.7" font-size="11.6" fill="#e4e4e4" text-anchor="middle" stroke="#e4e4e4" stroke-width="0.3">2</text>
<text x="529" y="556.7" font-size="11.6" fill="#e4e4e4" text-anchor="middle" stroke="#e4e4e4" stroke-width="0.3">20</text>
<line x1="394.8" y1="561.2" x2="555.4" y2="561.2" stroke="#545d66" stroke-width="1.3"/>
<text x="401.9" y="574.0" font-size="11.4" fill="#e4e4e4" text-anchor="start" stroke="#e4e4e4" stroke-width="0.3" textLength="30" lengthAdjust="spacingAndGlyphs">Row 7</text>
<text x="474.5" y="574.0" font-size="11.6" fill="#e4e4e4" text-anchor="middle" stroke="#e4e4e4" stroke-width="0.3">4</text>
<text x="529" y="574.0" font-size="11.6" fill="#e4e4e4" text-anchor="middle" stroke="#e4e4e4" stroke-width="0.3">18</text>
<line x1="447.1" y1="440.5" x2="447.1" y2="578.5" stroke="#545d66" stroke-width="1.3"/>
<line x1="502" y1="440.5" x2="502" y2="578.5" stroke="#545d66" stroke-width="1.3"/>
<path d="M444.5,193.5 V201 Q444.5,207.5 438,207.5 H418 Q412,207.5 410,213" fill="none" stroke="#f2cd58" stroke-width="2.7" stroke-linejoin="round"/>
<path d="M407.5,220.5 L406.8,209.3 L416.0,213.2 Z" fill="#f2cd58"/>
<path d="M471.3,193.5 V201 Q471.3,207.5 477.8,207.5 H527 Q533,207.5 535,213" fill="none" stroke="#f2cd58" stroke-width="2.7" stroke-linejoin="round"/>
<path d="M537.0,220.5 L528.5,213.2 L537.7,209.3 Z" fill="#f2cd58"/>
<line x1="377.5" y1="263" x2="366.4" y2="283.0" stroke="#f2cd58" stroke-width="2.5"/>
<path d="M362.5,290.0 L363.0,278.8 L371.7,283.7 Z" fill="#f2cd58"/>
<line x1="405.6" y1="263" x2="401.6" y2="282.2" stroke="#f2cd58" stroke-width="2.5" stroke-dasharray="5 2.8"/>
<path d="M400.0,290.0 L397.1,279.2 L406.9,281.2 Z" fill="#f2cd58"/>
<line x1="513.5" y1="263" x2="504.9" y2="282.7" stroke="#f2cd58" stroke-width="2.5" stroke-dasharray="5 2.8"/>
<path d="M501.7,290.0 L501.1,278.8 L510.3,282.8 Z" fill="#f2cd58"/>
<line x1="540.6" y1="263" x2="540.6" y2="282.0" stroke="#f2cd58" stroke-width="2.5" stroke-dasharray="5 2.8"/>
<path d="M540.6,290.0 L535.6,280.0 L545.6,280.0 Z" fill="#f2cd58"/>
<path d="M582,251.7 H594 Q602.3,251.7 602.3,260 V483 Q602.3,491.9 594,491.9 H572" fill="none" stroke="#f2cd58" stroke-width="2.5" stroke-linejoin="round" stroke-dasharray="5 2.8"/>
<path d="M564.0,491.9 L574.0,486.9 L574.0,496.9 Z" fill="#f2cd58"/>
<path d="M602.3,503 V523 Q602.3,531.9 594,531.9 H572" fill="none" stroke="#f2cd58" stroke-width="2.5" stroke-linejoin="round" stroke-dasharray="5 2.8"/>
<path d="M564.0,531.9 L574.0,526.9 L574.0,536.9 Z" fill="#f2cd58"/>
<path d="M362,332 V500 Q362,509.8 371,509.8 H384" fill="none" stroke="#f2cd58" stroke-width="2.5" stroke-linejoin="round" stroke-dasharray="5 2.8"/>
<path d="M392.0,509.8 L382.0,514.8 L382.0,504.8 Z" fill="#f2cd58"/>
<path d="M399.3,332 V409" fill="none" stroke="#f2cd58" stroke-width="2.5" stroke-linejoin="round" stroke-dasharray="5 2.8"/>
<path d="M399.3,417.5 L394.3,407.5 L404.3,407.5 Z" fill="#f2cd58"/>
<path d="M401,384 L462,413" fill="none" stroke="#f2cd58" stroke-width="2.5" stroke-linejoin="round" stroke-dasharray="5 2.8"/>
<path d="M458.5,417.5 L469.0,417.5 L463.5,408.0 Z" fill="#f2cd58"/>
<path d="M437.5,332 V374 Q437.5,382 446,382 H507 Q515.8,382 515.8,391 V409" fill="none" stroke="#f2cd58" stroke-width="2.5" stroke-linejoin="round" stroke-dasharray="5 2.8"/>
<path d="M515.8,417.5 L510.8,407.5 L520.8,407.5 Z" fill="#f2cd58"/>
<path d="M502,332 V368 Q502,376 494,380 L441,413" fill="none" stroke="#f2cd58" stroke-width="2.5" stroke-linejoin="round" stroke-dasharray="5 2.8"/>
<path d="M434.5,417.5 L444.5,417.5 L440.5,407.5 Z" fill="#f2cd58"/>
<path d="M540.3,332 V366 Q540.3,374 533,379 L487.5,412.5" fill="none" stroke="#f2cd58" stroke-width="2.5" stroke-linejoin="round" stroke-dasharray="5 2.8"/>
<path d="M481.5,417.5 L491.5,417.5 L488.5,407.5 Z" fill="#f2cd58"/>
<path d="M578.2,332 V336 Q578.2,354.3 596,354.3 H602.3" fill="none" stroke="#f2cd58" stroke-width="2.5" stroke-linejoin="round" stroke-dasharray="5 2.8"/>
<text x="339.9" y="357" font-size="11.9" class="b" fill="#f2cd58" textLength="16.8" lengthAdjust="spacingAndGlyphs" stroke="#f2cd58" stroke-width="0.25">RID</text>
<text x="339.4" y="366.8" font-size="11.9" class="b" fill="#f2cd58" textLength="18.0" lengthAdjust="spacingAndGlyphs" stroke="#f2cd58" stroke-width="0.25">refs</text>
<text x="377.7" y="366.8" font-size="11.9" class="b" fill="#f2cd58" textLength="16.9" lengthAdjust="spacingAndGlyphs" stroke="#f2cd58" stroke-width="0.25">RID</text>
<text x="443.7" y="357" font-size="11.9" class="b" fill="#f2cd58" textLength="16.7" lengthAdjust="spacingAndGlyphs" stroke="#f2cd58" stroke-width="0.25">RID</text>
<text x="442.9" y="366.8" font-size="11.9" class="b" fill="#f2cd58" textLength="18.5" lengthAdjust="spacingAndGlyphs" stroke="#f2cd58" stroke-width="0.25">refs</text>
<text x="481" y="357" font-size="11.9" class="b" fill="#f2cd58" textLength="16.5" lengthAdjust="spacingAndGlyphs" stroke="#f2cd58" stroke-width="0.25">RID</text>
<text x="479.8" y="366.8" font-size="11.9" class="b" fill="#f2cd58" textLength="18.4" lengthAdjust="spacingAndGlyphs" stroke="#f2cd58" stroke-width="0.25">rets</text>
<text x="519" y="367" font-size="11.9" class="b" fill="#f2cd58" textLength="17.0" lengthAdjust="spacingAndGlyphs" stroke="#f2cd58" stroke-width="0.25">RID</text>
<text x="559.3" y="367.1" font-size="11.9" class="b" fill="#f2cd58" textLength="38.0" lengthAdjust="spacingAndGlyphs" stroke="#f2cd58" stroke-width="0.25">RID rets</text>
<text x="409" y="609" font-size="14" class="b" fill="#e6e6e6" textLength="132" lengthAdjust="spacingAndGlyphs" stroke="#e6e6e6" stroke-width="0.25">TABLE (Heap Storage)</text>
</svg></body></html>
